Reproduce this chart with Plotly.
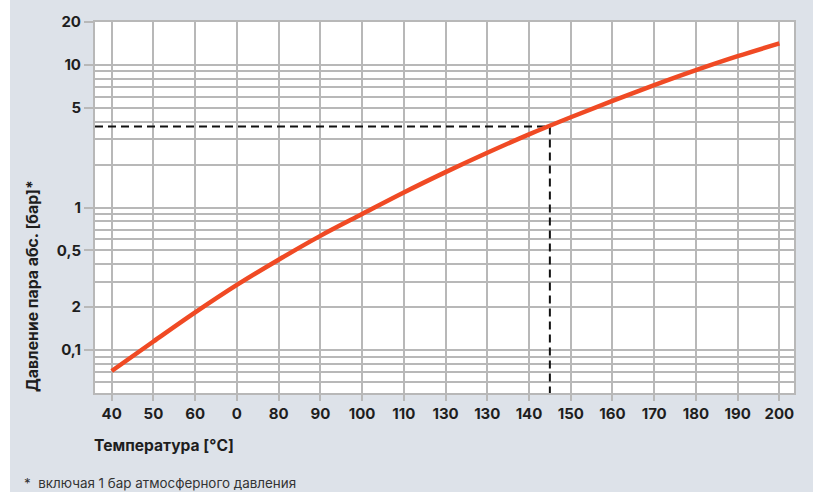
import plotly.graph_objects as go

# Saturated steam pressure curve (absolute pressure, bar)
temperature_c = [40, 50, 60, 70, 80, 90, 100, 110, 120, 130, 140,
                 150, 160, 170, 180, 190, 200]
pressure_bar = [0.0713, 0.1148, 0.1837, 0.2864, 0.4305, 0.6324, 0.8995,
                1.274, 1.770, 2.421, 3.258, 4.295, 5.598, 7.211, 9.183,
                11.51, 14.16]

# Highlighted reading
marker_temp = 145
marker_pressure = 3.70

# Axis ticks and labels
x_tickvals = [40, 50, 60, 70, 80, 90, 100, 110, 120, 130, 140, 150, 160,
              170, 180, 190, 200]
x_ticktext = ["40", "50", "60", "0", "80", "90", "100", "110", "130", "130",
              "140", "150", "160", "170", "180", "190", "200"]
y_tickvals = [0.1, 0.2, 0.5, 1, 5, 10, 20]
y_ticktext = ["0,1", "2", "0,5", "1", "5", "10", "20"]
y_minor_vals = [0.06, 0.07, 0.08, 0.09, 0.3, 0.4, 0.6, 0.7, 0.8, 0.9,
                2, 3, 4, 6, 7, 8, 9]

x_range = [36, 203.5]
y_range = [0.05, 20]

BG = "#dde2e9"
GRID = "#b8b8b8"
CURVE = "#f04a24"
TEXT = "#1e1e1e"
FONT = "Inter, Roboto, Arial, sans-serif"

fig = go.Figure()

# dashed guide lines to the axes
fig.add_trace(go.Scatter(
    x=[x_range[0], marker_temp, marker_temp],
    y=[marker_pressure, marker_pressure, y_range[0]],
    mode="lines",
    line=dict(color="#111111", width=2, dash="8px,5px"),
    hoverinfo="skip",
    showlegend=False,
))

fig.add_trace(go.Scatter(
    x=temperature_c,
    y=pressure_bar,
    mode="lines",
    line=dict(color=CURVE, width=4.5, shape="spline"),
    showlegend=False,
))

fig.update_xaxes(
    range=x_range,
    tickvals=x_tickvals,
    ticktext=x_ticktext,
    ticks="outside",
    ticklen=6,
    tickwidth=1.5,
    tickcolor=GRID,
    showgrid=True,
    gridcolor=GRID,
    gridwidth=1.5,
    showline=True,
    linecolor=GRID,
    linewidth=2,
    mirror=True,
    zeroline=False,
    tickfont=dict(family=FONT, size=15, color=TEXT, weight="bold"),
)

fig.update_yaxes(
    type="log",
    range=[-1.30103, 1.30103],
    tickvals=y_tickvals,
    ticktext=y_ticktext,
    ticks="outside",
    ticklen=9,
    tickwidth=1.5,
    tickcolor=GRID,
    showgrid=True,
    gridcolor=GRID,
    gridwidth=1.5,
    minor=dict(tickvals=y_minor_vals, showgrid=True, gridcolor=GRID,
               gridwidth=1.5, ticks=""),
    showline=True,
    linecolor=GRID,
    linewidth=2,
    mirror=True,
    zeroline=False,
    tickfont=dict(family=FONT, size=15, color=TEXT, weight="bold"),
)

fig.update_layout(
    width=819,
    height=492,
    margin=dict(l=95, r=25, t=22, b=99),
    paper_bgcolor=BG,
    plot_bgcolor="white",
    font=dict(family=FONT, color=TEXT),
    shapes=[
        # thin white strips at the page edges
        dict(type="rect", xref="paper", yref="paper", x0=-0.2, x1=-0.1216,
             y0=-0.3, y1=1.1, fillcolor="white", line_width=0, layer="below"),
        dict(type="rect", xref="paper", yref="paper", x0=1.0272, x1=1.1,
             y0=-0.3, y1=1.1, fillcolor="white", line_width=0, layer="below"),
    ],
    annotations=[
        dict(text="Давление пара абс. [бар]*", textangle=-90,
             xref="paper", yref="paper", x=-0.0905, y=0.288,
             xanchor="center", yanchor="middle", showarrow=False,
             font=dict(family=FONT, size=15.8, color=TEXT, weight="bold")),
        dict(text="Температура [°C]",
             xref="paper", yref="paper", x=-0.005, y=-0.141,
             xanchor="left", yanchor="middle", showarrow=False,
             font=dict(family=FONT, size=15.6, color=TEXT, weight="bold")),
        dict(text="*  включая 1 бар атмосферного давления",
             xref="paper", yref="paper", x=-0.104, y=-0.243,
             xanchor="left", yanchor="middle", showarrow=False,
             font=dict(family=FONT, size=13.4, color="#333333")),
    ],
)

fig.write_html("out.html")
